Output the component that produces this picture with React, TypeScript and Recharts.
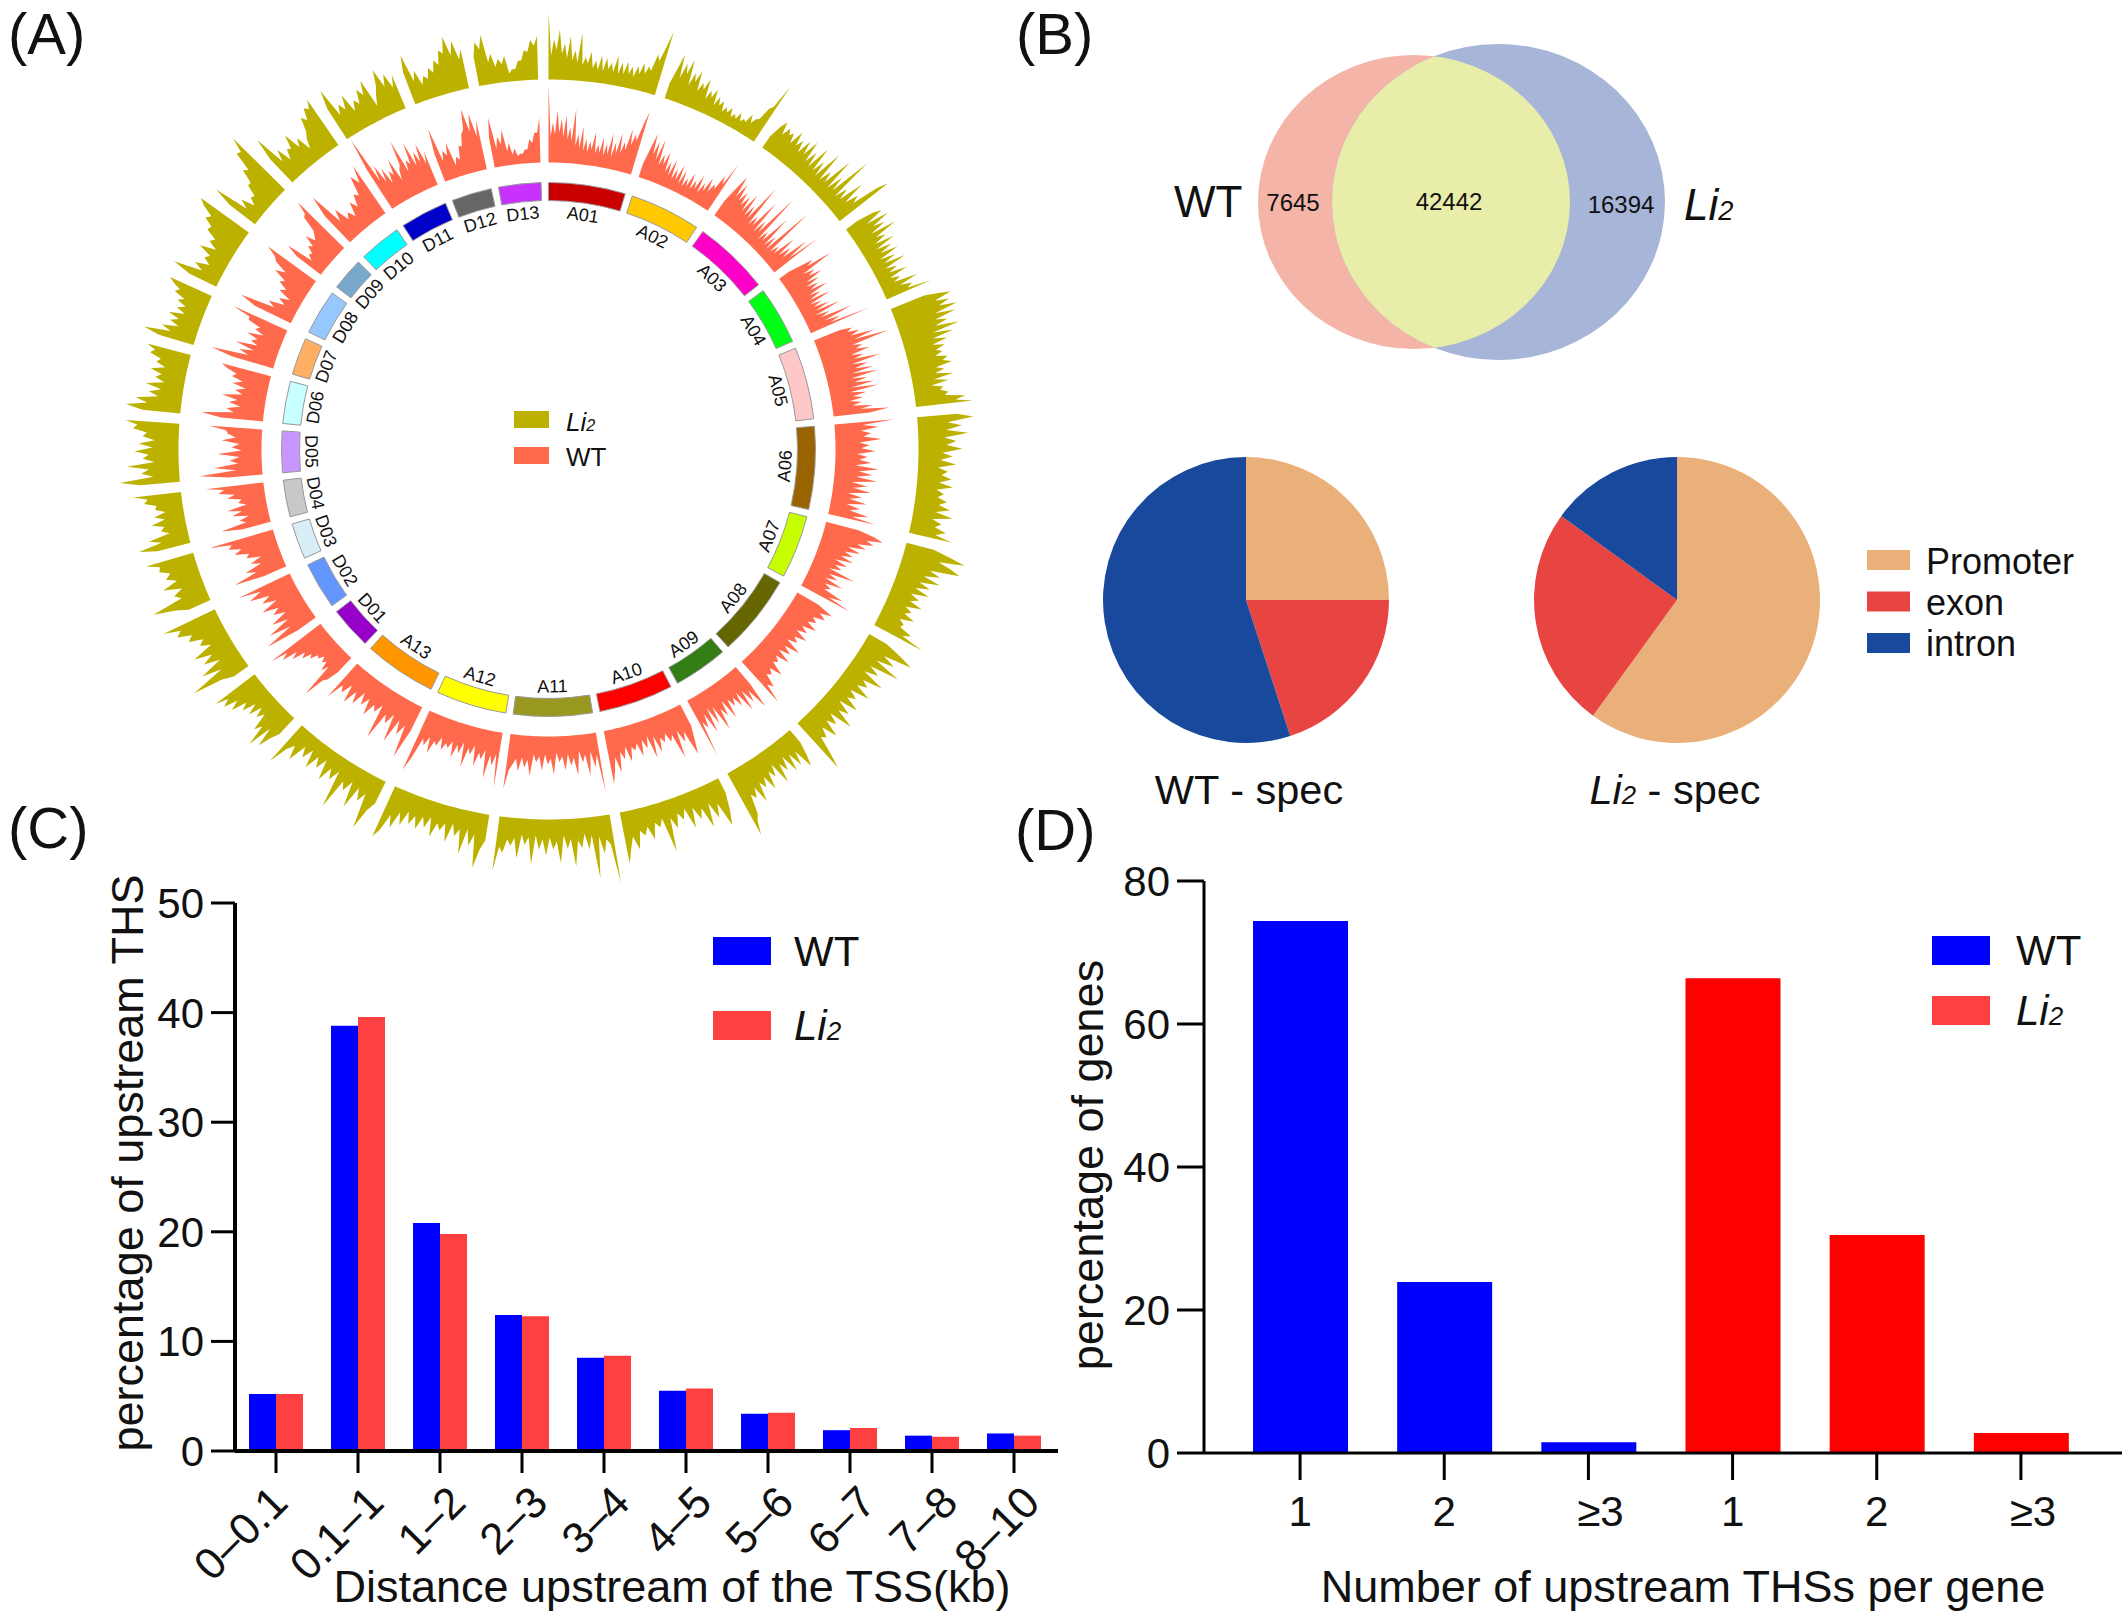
import { Bar, BarChart, Cell, Pie, PieChart, PolarAngleAxis, PolarRadiusAxis, Radar, RadarChart, XAxis, YAxis } from 'recharts';

const FONT = '"Liberation Sans", Arial, sans-serif';

// panel A: chromosomes, clockwise from the top
const chromNames = ['A01', 'A02', 'A03', 'A04', 'A05', 'A06', 'A07', 'A08', 'A09', 'A10', 'A11', 'A12', 'A13',
  'D01', 'D02', 'D03', 'D04', 'D05', 'D06', 'D07', 'D08', 'D09', 'D10', 'D11', 'D12', 'D13'];
const chromLengths = [16.7, 15.4, 16.6, 12.6, 15.7, 18, 13.7, 17.8, 11.8, 16.2, 17.1, 15.3, 15.7,
  9.2, 10.2, 7.8, 8, 9, 9.2, 8.1, 9.8, 7.1, 9.2, 10.3, 8.7, 9.2];
const chromColors = ['#c80000', '#ffc800', '#ff00c8', '#00ff14', '#ffc8c8', '#996400', '#c8ff00', '#666600', '#327d14', '#ff0000', '#999920', '#ffff00', '#ff9600',
  '#9600c8', '#6496ff', '#d8eef6', '#c8c8c8', '#c896ff', '#c8ffff', '#ffaf64', '#96c8ff', '#78a8cc', '#00ffff', '#0000c8', '#666666', '#c832ff'];
const CHROM_GAP = 1.6;

// track heights along each chromosome
const wtHeights = [
  [78, 26, 40, 28, 52, 30, 44, 26, 48, 24, 36, 22, 55, 18, 30, 16, 38, 14, 26, 13, 24, 16, 34, 13, 22, 14, 30, 12, 24, 14, 36, 12, 28, 16, 38, 18, 30, 22, 44, 28, 40, 34, 52, 65],
  [14, 30, 47, 26, 40, 22, 44, 18, 30, 20, 34, 14, 26, 12, 30, 10, 22, 11, 28, 9, 24, 8, 18, 10, 26, 9, 20, 12, 28, 10, 22, 14, 30, 16, 26, 22, 38, 30, 54],
  [18, 34, 50, 28, 44, 26, 38, 24, 36, 20, 42, 18, 32, 18, 58, 14, 26, 16, 48, 12, 28, 14, 62, 10, 22, 12, 44, 10, 24, 9, 63, 10, 20, 12, 36, 14, 28, 16, 44, 20, 55],
  [12, 24, 38, 30, 57, 22, 34, 26, 40, 20, 34, 18, 30, 20, 38, 16, 28, 14, 36, 12, 24, 14, 30, 14, 40, 12, 26, 16, 48, 18, 34, 22, 63],
  [28, 40, 34, 46, 36, 60, 38, 73, 34, 44, 36, 50, 30, 42, 32, 58, 28, 44, 30, 48, 26, 52, 24, 40, 26, 46, 22, 49, 20, 36, 22, 32, 18, 30, 20, 40, 28, 56, 36],
  [60, 28, 44, 26, 36, 28, 46, 24, 34, 26, 40, 22, 32, 24, 36, 20, 44, 24, 38, 22, 43, 18, 34, 20, 38, 16, 30, 18, 36, 16, 30, 20, 40, 24, 48],
  [34, 50, 60, 44, 52, 36, 46, 28, 42, 26, 36, 24, 38, 20, 34, 22, 30, 18, 46, 20, 30, 18, 38, 20, 28, 22, 44, 30, 55],
  [24, 42, 30, 38, 26, 32, 24, 36, 22, 30, 20, 34, 22, 28, 18, 36, 20, 30, 18, 34, 20, 26, 22, 37, 24, 30, 26, 40, 34, 54],
  [22, 49, 26, 38, 22, 44, 20, 34, 22, 30, 20, 40, 18, 34, 24, 46, 18, 36, 16, 42, 20, 34, 26, 62],
  [24, 38, 52, 26, 36, 22, 50, 24, 30, 20, 28, 22, 36, 18, 40, 16, 28, 18, 34, 20, 26, 22, 36, 20, 32, 24, 44, 28, 42, 54],
  [60, 22, 34, 18, 42, 20, 28, 16, 40, 22, 30, 18, 34, 20, 26, 16, 38, 22, 28, 18, 34, 20, 26, 18, 40, 24, 32, 22, 36, 24, 30, 36, 55],
  [56, 22, 34, 24, 48, 20, 30, 24, 38, 18, 28, 22, 42, 18, 30, 22, 36, 20, 28, 24, 32, 20, 30, 26, 40, 24, 34, 28, 50, 65],
  [26, 57, 24, 36, 22, 48, 20, 32, 24, 53, 18, 28, 22, 36, 20, 30, 18, 34, 22, 38, 20, 32, 26, 44],
  [20, 32, 36, 58, 22, 30, 20, 24, 18, 24, 22, 30, 26, 36, 30, 44, 36, 52, 44, 62],
  [22, 56, 26, 48, 24, 40, 22, 34, 26, 42, 24, 38, 28, 48, 34, 56],
  [24, 55, 30, 40, 22, 32, 20, 34, 30, 44, 36, 48, 44, 66],
  [30, 50, 24, 30, 20, 36, 26, 40, 20, 28, 24, 38, 30, 46, 40, 58],
  [34, 63, 26, 48, 24, 32, 22, 44, 20, 30, 22, 40, 26, 34, 36, 53],
  [42, 62, 30, 38, 24, 36, 28, 44, 24, 32, 22, 36, 26, 38, 34, 44, 51],
  [44, 65, 28, 38, 24, 44, 22, 30, 24, 36, 20, 30, 26, 40, 40, 59],
  [40, 57, 22, 30, 14, 22, 12, 26, 20, 30, 26, 40, 30, 44, 48, 59],
  [30, 44, 16, 22, 20, 28, 24, 36, 26, 30, 34, 50, 52, 65],
  [36, 58, 22, 34, 18, 24, 16, 30, 22, 34, 30, 50, 40, 57],
  [46, 80, 30, 46, 26, 40, 22, 34, 28, 44, 20, 30, 34, 59, 24, 36, 30, 52, 26, 40, 28, 46, 24, 36],
  [30, 55, 20, 30, 24, 36, 12, 20, 16, 30, 28, 40, 44, 64, 40, 58, 34, 50],
  [30, 50, 18, 30, 22, 36, 14, 22, 10, 16, 8, 10, 10, 14, 14, 24, 20, 30, 30, 45],
];
const li2Heights = [
  [67, 24, 40, 30, 50, 26, 36, 22, 44, 20, 30, 18, 48, 16, 24, 18, 30, 14, 22, 13, 28, 12, 26, 15, 22, 13, 30, 12, 24, 13, 26, 14, 22, 12, 24, 16, 28, 18, 26, 22, 40, 34, 48, 66],
  [16, 30, 48, 24, 40, 30, 46, 20, 34, 26, 38, 18, 28, 22, 34, 14, 24, 18, 28, 12, 22, 14, 20, 10, 16, 11, 18, 9, 14, 10, 18, 10, 14, 12, 22, 14, 20, 22, 36, 40, 66],
  [14, 28, 35, 22, 32, 26, 30, 20, 36, 22, 30, 18, 34, 20, 38, 16, 30, 14, 40, 14, 28, 12, 44, 12, 26, 14, 46, 12, 30, 14, 58, 12, 26, 14, 40, 16, 30, 22, 50, 61],
  [14, 32, 40, 20, 44, 24, 36, 18, 45, 20, 30, 16, 36, 14, 30, 16, 34, 12, 28, 14, 36, 12, 24, 14, 32, 12, 22, 14, 38, 18, 30, 24, 48],
  [36, 50, 62, 44, 58, 46, 64, 40, 60, 38, 50, 36, 60, 32, 52, 30, 44, 28, 40, 30, 36, 28, 40, 34, 43, 26, 34, 24, 42, 22, 36, 18, 30, 26, 34, 30, 50, 40, 57],
  [40, 56, 30, 44, 28, 50, 26, 38, 28, 44, 24, 34, 22, 38, 20, 30, 24, 34, 22, 36, 20, 28, 22, 32, 24, 36, 22, 40, 20, 30, 24, 36, 26, 44],
  [28, 46, 62, 36, 50, 60, 30, 42, 26, 44, 24, 36, 22, 38, 20, 30, 22, 36, 20, 28, 22, 34, 20, 26, 24, 38, 30, 54],
  [20, 38, 53, 24, 38, 20, 48, 18, 30, 16, 40, 20, 28, 18, 36, 16, 26, 18, 34, 14, 30, 20, 40, 16, 28, 18, 36, 20, 30, 26, 44, 60],
  [16, 30, 41, 20, 34, 18, 36, 16, 30, 20, 40, 16, 28, 20, 38, 22, 32, 24, 44, 26, 36, 30, 50, 56, 70],
  [16, 34, 48, 22, 36, 18, 42, 20, 30, 16, 36, 14, 24, 16, 30, 18, 52, 16, 24, 18, 34, 20, 28, 22, 40, 26, 38, 52],
  [70, 30, 24, 38, 20, 62, 18, 32, 16, 30, 22, 48, 20, 30, 16, 44, 22, 30, 18, 36, 20, 30, 16, 45, 18, 26, 16, 40, 20, 28, 22, 36, 30, 55],
  [26, 36, 55, 22, 34, 18, 44, 20, 28, 16, 36, 18, 26, 20, 35, 16, 28, 18, 32, 20, 30, 18, 34, 22, 40, 28, 46, 55],
  [24, 34, 55, 20, 30, 18, 42, 16, 28, 20, 52, 14, 26, 16, 32, 12, 24, 14, 30, 12, 24, 14, 34, 20, 28, 48],
  [22, 30, 44, 24, 50, 28, 36, 18, 26, 16, 30, 18, 32, 24, 40, 30, 44, 36, 49],
  [18, 30, 60, 24, 44, 20, 36, 24, 42, 20, 30, 24, 38, 32, 46, 40, 57],
  [24, 36, 58, 26, 32, 22, 40, 24, 34, 28, 38, 36, 49],
  [34, 52, 28, 40, 18, 26, 22, 34, 20, 30, 18, 28, 26, 38, 34, 48],
  [40, 60, 26, 38, 30, 52, 24, 36, 30, 44, 26, 40, 24, 36, 32, 46, 42, 54],
  [38, 55, 34, 46, 24, 34, 22, 38, 20, 30, 24, 36, 22, 32, 28, 40, 36, 45],
  [36, 53, 26, 36, 20, 30, 22, 34, 18, 28, 20, 30, 24, 36, 32, 40, 46],
  [30, 49, 20, 30, 16, 24, 20, 34, 18, 28, 24, 36, 34, 44, 40, 52, 59],
  [32, 52, 16, 26, 12, 20, 18, 30, 30, 44, 40, 60, 58, 73],
  [32, 55, 22, 34, 18, 28, 26, 40, 22, 30, 14, 24, 30, 44, 38, 50, 46, 55],
  [36, 55, 24, 34, 26, 40, 20, 30, 24, 38, 30, 44, 14, 24, 32, 48, 28, 40, 24, 36],
  [34, 51, 22, 32, 16, 24, 20, 30, 24, 36, 30, 44, 40, 56, 36, 50, 30, 40],
  [30, 44, 36, 50, 22, 30, 16, 24, 18, 26, 8, 12, 12, 20, 20, 30, 28, 40, 34, 44],
];

// panel B
const vennCounts = ['7645', '42442', '16394'];
const regionNames = ['Promoter', 'exon', 'intron'];
const regionColors = ['#e9b07a', '#e84442', '#18499c'];
const wtSpecShares = [25, 20, 55];
const li2SpecShares = [60, 25, 15];

// panel C
const distanceBins = ['0–0.1', '0.1–1', '1–2', '2–3', '3–4', '4–5', '5–6', '6–7', '7–8', '8–10'];
const distanceWt = [5.2, 38.8, 20.8, 12.4, 8.5, 5.5, 3.4, 1.9, 1.4, 1.6];
const distanceLi2 = [5.2, 39.6, 19.8, 12.3, 8.7, 5.7, 3.5, 2.1, 1.3, 1.4];

// panel D
const thsCountLabels = ['1', '2', '≥3', '1', '2', '≥3'];
const genesWt = [74.4, 23.9, 1.5, null, null, null];
const genesLi2 = [null, null, null, 66.4, 30.5, 2.8];

const BLUE = '#0000ff';
const RED = '#ff4040';
const CX = 548.5;
const CY = 449.5;
const NO_MARGIN = { top: 0, right: 0, bottom: 0, left: 0 };

function trackRows(heights: number[][]) {
  const rows: { angle: number; h: number[] }[] = [];
  const total = chromLengths.reduce((a, b) => a + b, 0);
  const unit = (360 - CHROM_GAP * chromLengths.length) / total;
  let start = 0;
  heights.forEach((list, c) => {
    const span = chromLengths[c] * unit;
    rows.push({ angle: start, h: [0, 0] });
    list.forEach((v, i) => rows.push({ angle: start + (span * i) / (list.length - 1), h: [0, v] }));
    rows.push({ angle: start + span, h: [0, 0] });
    start += span + CHROM_GAP;
  });
  return rows;
}

const chromData = chromNames.map((name, i) => ({ name, value: chromLengths[i] }));
const distanceData = distanceBins.map((bin, i) => ({ bin, wt: distanceWt[i], li2: distanceLi2[i] }));
const genesData = thsCountLabels.map((label, i) => ({ key: `${label}-${i}`, label, wt: genesWt[i], li2: genesLi2[i] }));
const shareData = (shares: number[]) => regionNames.map((name, i) => ({ name, value: shares[i] }));

function Track({ heights, color, inner }: { heights: number[][]; color: string; inner: number }) {
  return (
    <div style={{ position: 'absolute', left: 0, top: 0 }}>
      <RadarChart width={1000} height={900} cx={CX} cy={CY} innerRadius={inner} outerRadius={inner + 100} margin={NO_MARGIN} data={trackRows(heights)}>
        <PolarAngleAxis dataKey="angle" type="number" domain={[0, 360]} tick={false} axisLine={false} />
        <PolarRadiusAxis domain={[0, 100]} tick={false} axisLine={false} />
        <Radar dataKey="h" fill={color} fillOpacity={1} stroke="none" dot={false} isAnimationActive={false} />
      </RadarChart>
    </div>
  );
}

function chromLabel({ cx, cy, midAngle, name }: any) {
  const norm = (((90 - midAngle) % 360) + 360) % 360;
  const rad = (norm * Math.PI) / 180;
  const x = cx + 237 * Math.sin(rad);
  const y = cy - 237 * Math.cos(rad);
  const rot = norm > 90 && norm < 270 ? norm - 180 : norm;
  return (
    <text x={x} y={y} textAnchor="middle" dominantBaseline="central" fontSize={18} fontFamily={FONT} fill="#111" transform={`rotate(${rot} ${x} ${y})`}>
      {name}
    </text>
  );
}

function SpecPie({ left, shares }: { left: number; shares: number[] }) {
  return (
    <div style={{ position: 'absolute', left, top: 450 }}>
      <PieChart width={300} height={300} margin={NO_MARGIN}>
        <Pie data={shareData(shares)} dataKey="value" nameKey="name" cx={150} cy={150} innerRadius={0} outerRadius={143} startAngle={90} endAngle={-270} stroke="none" isAnimationActive={false}>
          {regionColors.map((c) => <Cell key={c} fill={c} />)}
        </Pie>
      </PieChart>
    </div>
  );
}

function DistanceTick({ x, y, payload }: any) {
  const tx = x + (payload.value === '0–0.1' ? 14 : 28);
  const ty = y + 30;
  return (
    <text x={tx} y={ty} textAnchor="end" fontSize={44} fontFamily={FONT} fill="#111" transform={`rotate(-45 ${tx} ${ty})`}>
      {payload.value}
    </text>
  );
}

function CountTick({ x, y, payload }: any) {
  const label = String(payload.value).split('-')[0];
  return (
    <text x={x + (label === '≥3' ? 12 : 0)} y={y + 44} textAnchor="middle" fontSize={42} fontFamily={FONT} fill="#111">
      {label}
    </text>
  );
}

const axisStroke = { stroke: '#000', strokeWidth: 4 };
const tickStroke = { stroke: '#000', strokeWidth: 3 };
const valueTick = { fontSize: 42, fontFamily: FONT, fill: '#111' };

function Li2({ size }: { size: number }) {
  return (
    <>
      <tspan fontStyle="italic">Li</tspan>
      <tspan fontStyle="italic" fontSize={size * 0.62}>2</tspan>
    </>
  );
}

export default function App() {
  return (
    <div style={{ position: 'absolute', left: 0, top: 0, width: 2128, height: 1617, background: '#fff', overflow: 'hidden' }}>
      <Track heights={li2Heights} color="#bdb100" inner={370} />
      <Track heights={wtHeights} color="#ff6a4d" inner={287} />
      <div style={{ position: 'absolute', left: 0, top: 0 }}>
        <PieChart width={1000} height={900} margin={NO_MARGIN}>
          <Pie data={chromData} dataKey="value" nameKey="name" cx={CX} cy={CY} innerRadius={249} outerRadius={267} startAngle={90} endAngle={-270} paddingAngle={CHROM_GAP} stroke="#999" strokeWidth={1} label={chromLabel} labelLine={false} isAnimationActive={false}>
            {chromColors.map((c) => <Cell key={c} fill={c} />)}
          </Pie>
        </PieChart>
      </div>

      <SpecPie left={1095.5} shares={wtSpecShares} />
      <SpecPie left={1526.5} shares={li2SpecShares} />

      <div style={{ position: 'absolute', left: 0, top: 850 }}>
        <BarChart width={1100} height={767} data={distanceData} margin={{ top: 53, right: 42, bottom: 0, left: 0 }} barSize={27} barGap={0}>
          <XAxis dataKey="bin" height={166} interval={0} tick={<DistanceTick />} tickSize={22} axisLine={axisStroke} tickLine={tickStroke} padding={{ left: 0, right: 3 }} />
          <YAxis width={235} domain={[0, 50]} ticks={[0, 10, 20, 30, 40, 50]} tick={valueTick} tickSize={24} tickMargin={7} axisLine={axisStroke} tickLine={tickStroke} />
          <Bar dataKey="wt" fill={BLUE} isAnimationActive={false} />
          <Bar dataKey="li2" fill={RED} isAnimationActive={false} />
        </BarChart>
      </div>

      <div style={{ position: 'absolute', left: 1000, top: 850 }}>
        <BarChart width={1122} height={767} data={genesData} margin={{ top: 31, right: 0, bottom: 0, left: 0 }} barSize={95}>
          <XAxis dataKey="key" height={164} interval={0} tick={<CountTick />} tickSize={27} axisLine={{ stroke: '#000', strokeWidth: 3 }} tickLine={tickStroke} padding={{ left: 24, right: 29 }} />
          <YAxis width={204} domain={[0, 80]} ticks={[0, 20, 40, 60, 80]} tick={valueTick} tickSize={27} tickMargin={7} axisLine={{ stroke: '#000', strokeWidth: 3 }} tickLine={tickStroke} />
          <Bar dataKey="wt" stackId="g" fill={BLUE} isAnimationActive={false} />
          <Bar dataKey="li2" stackId="g" fill="#ff0000" isAnimationActive={false} />
        </BarChart>
      </div>

      <svg width={2128} height={1617} style={{ position: 'absolute', left: 0, top: 0 }} fontFamily={FONT} fill="#111">
        <defs>
          <clipPath id="vennLeft"><ellipse cx={1414} cy={202} rx={156} ry={147} /></clipPath>
        </defs>
        <ellipse cx={1414} cy={202} rx={156} ry={147} fill="#f4b5a8" />
        <ellipse cx={1498.5} cy={202} rx={166.5} ry={158} fill="#a6b5d8" />
        <ellipse cx={1498.5} cy={202} rx={166.5} ry={158} fill="#e9edaa" clipPath="url(#vennLeft)" />
        <text x={1293} y={211} fontSize={24} textAnchor="middle">{vennCounts[0]}</text>
        <text x={1449} y={210} fontSize={24} textAnchor="middle">{vennCounts[1]}</text>
        <text x={1621} y={213} fontSize={24} textAnchor="middle">{vennCounts[2]}</text>
        <text x={1174} y={217} fontSize={44}>WT</text>
        <text x={1684} y={220} fontSize={44}><Li2 size={44} /></text>

        <text x={8} y={54} fontSize={58}>(A)</text>
        <text x={1016} y={54} fontSize={58}>(B)</text>
        <text x={8} y={848} fontSize={58}>(C)</text>
        <text x={1015} y={850} fontSize={58}>(D)</text>

        <rect x={514} y={411} width={35} height={17} fill="#bdb100" />
        <rect x={514} y={447} width={35} height={17} fill="#ff6a4d" />
        <text x={566} y={431} fontSize={26}><Li2 size={26} /></text>
        <text x={566} y={466} fontSize={26}>WT</text>

        <text x={1249} y={804} fontSize={41.5} textAnchor="middle">WT - spec</text>
        <text x={1675} y={804} fontSize={41.5} textAnchor="middle"><Li2 size={41.5} /> - spec</text>
        {regionNames.map((name, i) => (
          <g key={name}>
            <rect x={1867} y={550 + i * 41.5} width={43} height={20} fill={regionColors[i]} />
            <text x={1926} y={574 + i * 41} fontSize={36}>{name}</text>
          </g>
        ))}

        <text x={143} y={1163} fontSize={45} textAnchor="middle" transform="rotate(-90 143 1163)">percentage of upstream THS</text>
        <text x={672} y={1602} fontSize={45} textAnchor="middle">Distance upstream of the TSS(kb)</text>
        <rect x={713} y={937} width={58} height={28} fill={BLUE} />
        <rect x={713} y={1011} width={58} height={29} fill={RED} />
        <text x={794} y={966} fontSize={42}>WT</text>
        <text x={794} y={1040} fontSize={42}><Li2 size={42} /></text>

        <text x={1103} y={1165} fontSize={45} textAnchor="middle" transform="rotate(-90 1103 1165)">percentage of genes</text>
        <text x={1683} y={1602} fontSize={45} textAnchor="middle">Number of upstream THSs per gene</text>
        <rect x={1932} y={936} width={58} height={29} fill={BLUE} />
        <rect x={1932} y={996} width={58} height={29} fill={RED} />
        <text x={2016} y={965} fontSize={42}>WT</text>
        <text x={2016} y={1025} fontSize={42}><Li2 size={42} /></text>
      </svg>
    </div>
  );
}
